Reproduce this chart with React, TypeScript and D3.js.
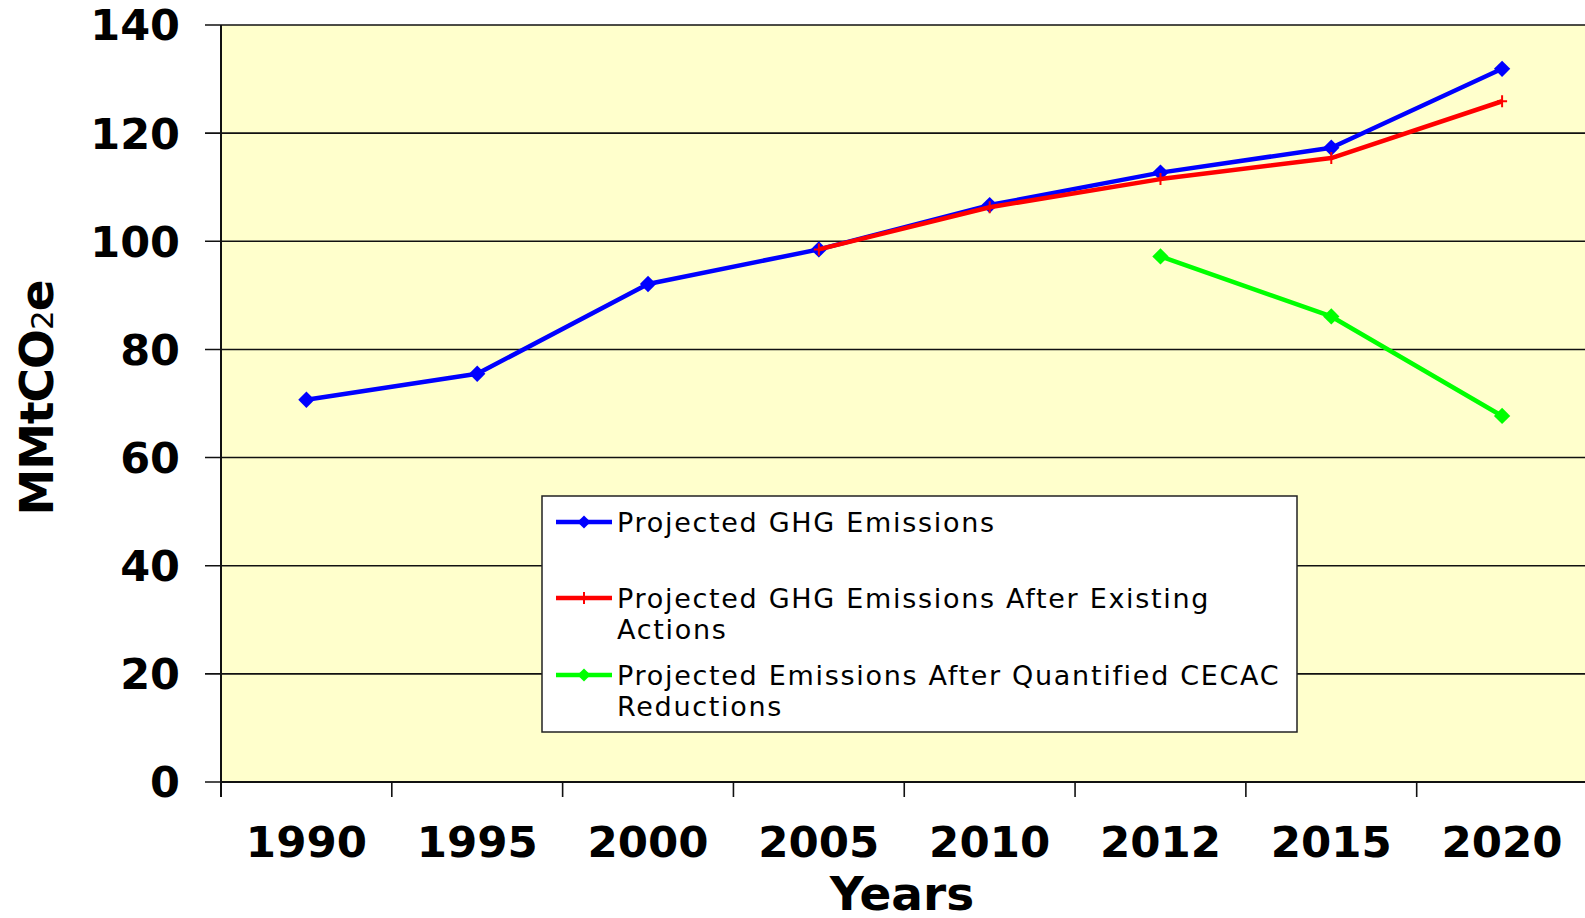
import * as d3 from 'd3'

const years = ['1990', '1995', '2000', '2005', '2010', '2012', '2015', '2020']
const yTicks = [0, 20, 40, 60, 80, 100, 120, 140]

const projected = [70.7, 75.5, 92.1, 98.5, 106.7, 112.7, 117.3, 131.9]
const afterActions = [null, null, null, 98.5, 106.3, 111.5, 115.4, 125.9]
const afterCecac = [null, null, null, null, null, 97.2, 86.1, 67.7]

const seriesNames = [
  ['Projected GHG Emissions'],
  ['Projected GHG Emissions After Existing', 'Actions'],
  ['Projected Emissions After Quantified CECAC', 'Reductions'],
]

const W = 1585
const H = 918
const plot = { left: 221, right: 1587.5, top: 25, bottom: 782 }
const font = '"DejaVu Sans", Verdana, sans-serif'

export default function App(){
  const x = d3.scaleBand<string>().domain(years).range([plot.left, plot.right])
  const y = d3.scaleLinear().domain([0, 140]).range([plot.bottom, plot.top])
  const cx = (yr: string)=> (x(yr) ?? 0) + x.bandwidth()/2

  type Pt = { year: string, v: number | null }
  const toPts = (vals: (number|null)[]): Pt[] => years.map((yr, i)=> ({ year: yr, v: vals[i] }))

  const line = d3.line<Pt>()
    .defined(d=> d.v != null)
    .x(d=> cx(d.year))
    .y(d=> y(d.v as number))

  const diamond = d3.symbol().type(d3.symbolDiamond2).size(170)()
  const diamondSmall = d3.symbol().type(d3.symbolDiamond2).size(110)()
  const plus = 'M-5,0H5M0,-6V6'

  const series = [
    { vals: projected, color: '#0000ff', marker: 'diamond' },
    { vals: afterActions, color: '#ff0000', marker: 'plus' },
    { vals: afterCecac, color: '#00ff00', marker: 'diamond' },
  ]

  // legend layout
  const lg = { x: 542, y: 496, w: 755, h: 236 }
  const rowY = [522, 598, 675]

  return (
    <svg width={W} height={H} style={{ position: 'absolute', left: 0, top: 0, display: 'block', background: '#fff' }}>
      <rect x={plot.left} y={plot.top} width={plot.right - plot.left} height={plot.bottom - plot.top} fill="#ffffcc" />

      {/* grid + y ticks */}
      {yTicks.map(t=> (
        <line key={t} x1={205} x2={plot.right} y1={y(t)} y2={y(t)} stroke="#111" strokeWidth={1.6} />
      ))}
      {yTicks.map(t=> (
        <text key={'l'+t} x={180} y={y(t)} dy="0.36em" textAnchor="end" fontFamily={font} fontWeight="bold" fontSize={43} fill="#000">{t}</text>
      ))}

      {/* axes */}
      <line x1={plot.left} x2={plot.left} y1={plot.top} y2={797} stroke="#111" strokeWidth={2} />
      <line x1={plot.left} x2={plot.right} y1={plot.bottom} y2={plot.bottom} stroke="#111" strokeWidth={2} />
      {years.map(yr=> (
        <line key={'t'+yr} x1={x(yr)} x2={x(yr)} y1={plot.bottom} y2={797} stroke="#111" strokeWidth={1.6} />
      ))}
      {years.map(yr=> (
        <text key={'x'+yr} x={cx(yr)} y={857} textAnchor="middle" fontFamily={font} fontWeight="bold" fontSize={43.5} fill="#000">{yr}</text>
      ))}

      <text x={902} y={910} textAnchor="middle" fontFamily={font} fontWeight="bold" fontSize={47} fill="#000">Years</text>
      <text transform="translate(53,398) rotate(-90)" textAnchor="middle" fontFamily={font} fontWeight="bold" fontSize={47} letterSpacing={-1} fill="#000">
        MMtCO<tspan fontSize={31} fontWeight="normal">2</tspan>e
      </text>

      {/* series */}
      {series.map((s, i)=> {
        const pts = toPts(s.vals)
        return (
          <g key={i}>
            <path d={line(pts) ?? ''} fill="none" stroke={s.color} strokeWidth={4.5} strokeLinejoin="round" />
            {pts.filter(p=> p.v != null).map(p=> s.marker === 'diamond'
              ? <path key={p.year} d={diamond ?? ''} transform={`translate(${cx(p.year)},${y(p.v as number)})`} fill={s.color} />
              : <path key={p.year} d={plus} transform={`translate(${cx(p.year)},${y(p.v as number)})`} stroke={s.color} strokeWidth={2} fill="none" />
            )}
          </g>
        )
      })}

      {/* legend */}
      <rect x={lg.x} y={lg.y} width={lg.w} height={lg.h} fill="#fff" stroke="#222" strokeWidth={1.5} />
      {series.map((s, i)=> (
        <g key={'lg'+i}>
          <line x1={556} x2={612} y1={rowY[i]} y2={rowY[i]} stroke={s.color} strokeWidth={4.5} />
          {s.marker === 'diamond'
            ? <path d={diamondSmall ?? ''} transform={`translate(584,${rowY[i]})`} fill={s.color} />
            : <path d={plus} transform={`translate(584,${rowY[i]})`} stroke={s.color} strokeWidth={2} fill="none" />}
          <text x={617} y={rowY[i]} fontFamily={font} fontSize={27} letterSpacing={1.7} fill="#000">
            {seriesNames[i].map((ln, j)=> (
              <tspan key={j} x={617} dy={j === 0 ? '0.36em' : 31}>{ln}</tspan>
            ))}
          </text>
        </g>
      ))}
    </svg>
  )
}
